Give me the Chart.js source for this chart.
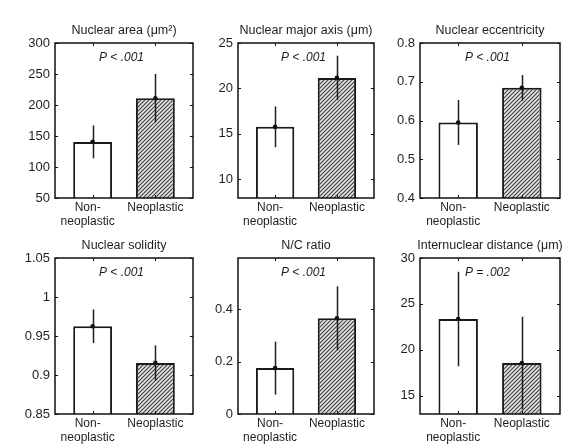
<!DOCTYPE html>
<html>
<head>
<meta charset="utf-8">
<script src="https://cdn.jsdelivr.net/npm/chart.js@4.4.1/dist/chart.umd.min.js"></script>
<style>
  html, body { margin: 0; padding: 0; background: #fff; overflow: hidden; width: 575px; height: 448px; }
  canvas { position: absolute; }
</style>
</head>
<body>
<script>
// data
const titles = ['Nuclear area (μm²)', 'Nuclear major axis (μm)', 'Nuclear eccentricity',
                'Nuclear solidity', 'N/C ratio', 'Internuclear distance (μm)'];
const pLabels = ['P < .001', 'P < .001', 'P < .001', 'P < .001', 'P < .001', 'P = .002'];
// trailing spaces: the original label sits a little left of its bar
const categories = [['Non-   ', 'neoplastic   '], 'Neoplastic'];
const meansNon = [140.5, 15.75, 0.595, 0.9625, 0.175, 23.35];
const meansNeo = [211, 21.15, 0.6845, 0.9155, 0.365, 18.55];
const errNon = [26.5, 2.25, 0.058, 0.0215, 0.101, 5.15];
const errNeo = [39, 2.45, 0.033, 0.0225, 0.122, 5.05];
const yMins = [50, 7.9, 0.4, 0.85, 0, 13];
const yMaxs = [300, 25, 0.8, 1.05, 0.595, 30];
const yTicks = [
  [50, 100, 150, 200, 250, 300],
  [10, 15, 20, 25],
  [0.4, 0.5, 0.6, 0.7, 0.8],
  [0.85, 0.9, 0.95, 1, 1.05],
  [0, 0.2, 0.4],
  [15, 20, 25, 30]
];

// plot boxes on the page (left, top, right, bottom)
const boxes = [
  [55, 43, 193, 198], [238, 43, 374, 198], [420, 43, 560, 198],
  [55, 258, 193, 414], [238, 258, 374, 414], [420, 258, 560, 414]
];
const AXIS_W = 40, TITLE_H = 25, XAXIS_H = 34, RIGHT_PAD = 10;
const INK = '#1e1e1e';
const FONT = '"Liberation Sans", Arial, Helvetica, sans-serif';

Chart.defaults.font.family = FONT;
Chart.defaults.color = INK;

function makeHatch(ctx) {
  const c = document.createElement('canvas');
  c.width = 4; c.height = 4;
  const g = c.getContext('2d');
  g.fillStyle = '#e4e4e4';
  g.fillRect(0, 0, 4, 4);
  g.strokeStyle = '#444';
  g.lineWidth = 1.2;
  g.beginPath();
  g.moveTo(0, 4); g.lineTo(4, 0);
  g.moveTo(-1, 1); g.lineTo(1, -1);
  g.moveTo(3, 5); g.lineTo(5, 3);
  g.stroke();
  return ctx.createPattern(c, 'repeat');
}

// error bars, drawn right after the bars
const errorBarPlugin = {
  id: 'errorBars',
  afterDatasetDraw(chart, args) {
    if (args.meta.type !== 'bar') return;
    const i = chart.options.plugins.errorBars.panel;
    const xs = chart.scales.x, ys = chart.scales.y;
    const ctx = chart.ctx;
    const rows = [[1, meansNon[i], errNon[i]], [2, meansNeo[i], errNeo[i]]];
    ctx.save();
    ctx.strokeStyle = INK;
    ctx.lineWidth = 1.5;
    rows.forEach(([x, m, e]) => {
      const px = Math.round(xs.getPixelForValue(x)) + 0.5;
      ctx.beginPath();
      ctx.moveTo(px, ys.getPixelForValue(m + e));
      ctx.lineTo(px, ys.getPixelForValue(m - e));
      ctx.stroke();
    });
    ctx.restore();
  }
};

// matlab style box with inward ticks, title and p value
const boxPlugin = {
  id: 'boxAxes',
  afterDraw(chart) {
    const i = chart.options.plugins.boxAxes.panel;
    const { left, top, right, bottom } = chart.chartArea;
    const ctx = chart.ctx;
    const xs = chart.scales.x, ys = chart.scales.y;
    ctx.save();
    ctx.strokeStyle = '#111';
    ctx.lineWidth = 1;
    ctx.beginPath();
    yTicks[i].forEach(v => {
      const py = Math.round(ys.getPixelForValue(v)) + 0.5;
      ctx.moveTo(left, py); ctx.lineTo(left + 3, py);
      ctx.moveTo(right, py); ctx.lineTo(right - 3, py);
    });
    [1, 2].forEach(v => {
      const px = Math.round(xs.getPixelForValue(v)) + 0.5;
      ctx.moveTo(px, bottom); ctx.lineTo(px, bottom - 3);
      ctx.moveTo(px, top); ctx.lineTo(px, top + 3);
    });
    ctx.stroke();
    ctx.lineWidth = 1.5;
    ctx.strokeRect(left, top, right - left, bottom - top);

    ctx.fillStyle = INK;
    ctx.textAlign = 'center';
    ctx.textBaseline = 'middle';
    ctx.font = '12.5px ' + FONT;
    ctx.fillText(titles[i], (left + right) / 2, top - 12.5);
    ctx.font = 'italic 12px ' + FONT;
    ctx.fillText(pLabels[i], xs.getPixelForValue(1.46), top + 15);
    ctx.restore();
  }
};

function drawPanel(i) {
  const [L, T, R, B] = boxes[i];
  const canvas = document.createElement('canvas');
  canvas.width = AXIS_W + (R - L) + RIGHT_PAD;
  canvas.height = TITLE_H + (B - T) + XAXIS_H;
  canvas.style.left = (L - AXIS_W) + 'px';
  canvas.style.top = (T - TITLE_H) + 'px';
  document.body.appendChild(canvas);
  const ctx = canvas.getContext('2d');

  new Chart(ctx, {
    type: 'bar',
    data: {
      datasets: [
        {
          type: 'bar',
          order: 2,
          data: [{ x: 1, y: meansNon[i] }, { x: 2, y: meansNeo[i] }],
          backgroundColor: ['#ffffff', makeHatch(ctx)],
          borderColor: '#1a1a1a',
          borderWidth: 2,
          barPercentage: 0.62,
          categoryPercentage: 1
        },
        {
          type: 'scatter',
          order: 1,
          data: [{ x: 1, y: meansNon[i] }, { x: 2, y: meansNeo[i] }],
          pointRadius: 2.3,
          pointBackgroundColor: '#111',
          pointBorderWidth: 0,
          showLine: false
        }
      ]
    },
    options: {
      responsive: false,
      animation: false,
      devicePixelRatio: 1,
      events: [],
      layout: { padding: { left: 0, right: RIGHT_PAD, top: TITLE_H, bottom: 0 } },
      plugins: {
        legend: { display: false },
        tooltip: { enabled: false },
        title: { display: false },
        errorBars: { panel: i },
        boxAxes: { panel: i }
      },
      scales: {
        x: {
          type: 'linear',
          offset: false,
          min: 0.4,
          max: 2.6,
          grid: { display: false, drawTicks: false },
          border: { display: false },
          afterBuildTicks: s => { s.ticks = [{ value: 1 }, { value: 2 }]; },
          afterFit: s => { s.height = XAXIS_H; },
          ticks: {
            padding: 2,
            maxRotation: 0,
            font: { size: 12 },
            color: INK,
            callback: v => categories[v - 1]
          }
        },
        y: {
          type: 'linear',
          min: yMins[i],
          max: yMaxs[i],
          grid: { display: false, drawTicks: false },
          border: { display: false },
          afterBuildTicks: s => { s.ticks = yTicks[i].map(v => ({ value: v })); },
          afterFit: s => { s.width = AXIS_W; },
          ticks: {
            padding: 5,
            font: { size: 13 },
            color: INK,
            callback: v => String(v)
          }
        }
      }
    },
    plugins: [errorBarPlugin, boxPlugin]
  });
}

titles.forEach((t, i) => drawPanel(i));
</script>
</body>
</html>
